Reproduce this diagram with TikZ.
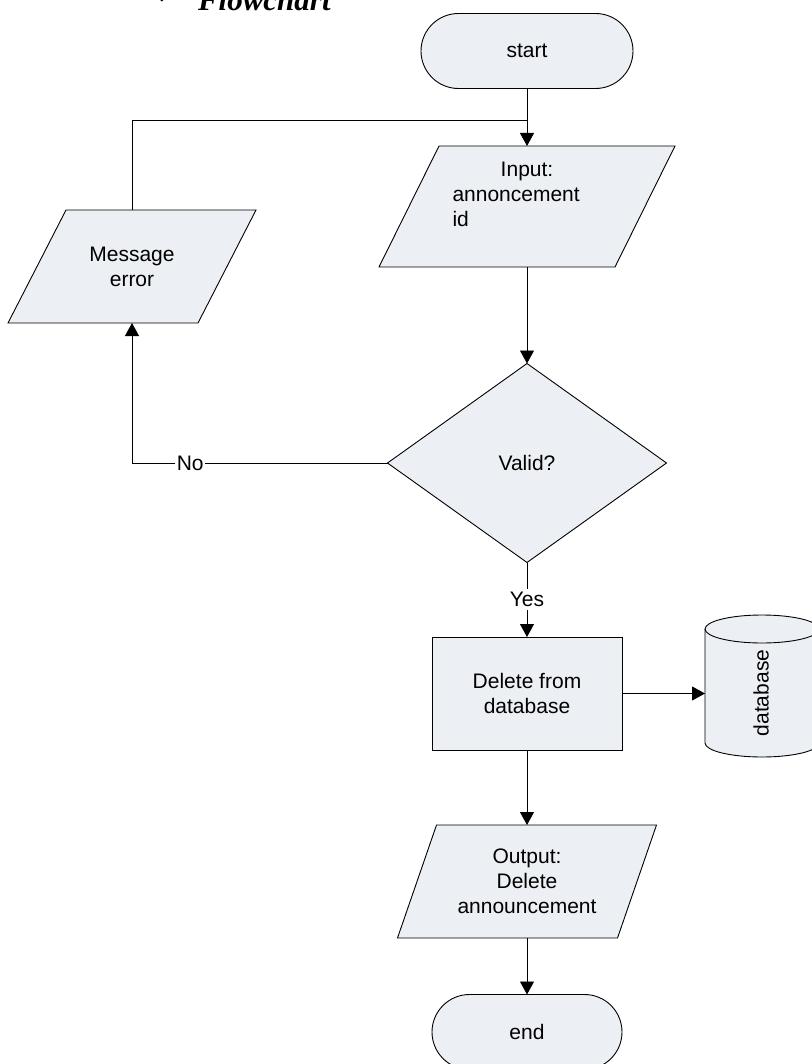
\documentclass[tikz,border=0pt]{standalone}
\usepackage{fontspec}
\setmainfont{Liberation Sans}
\newfontfamily\headfont{Liberation Serif}
\newfontfamily\symfont{DejaVu Sans}
\usetikzlibrary{shapes.geometric,shapes.misc,arrows.meta,backgrounds}
\definecolor{boxfill}{RGB}{236,239,244}

% slanted input/output box drawn around an (invisible) body node
\newcommand\ioshape[2]{%
  \filldraw[shapeline]
    ([xshift=#2]#1.north west) -- ([xshift=#2]#1.north east) --
    ([xshift=-#2]#1.south east) -- ([xshift=-#2]#1.south west) -- cycle;}

\begin{document}
\begin{tikzpicture}[x=1pt,y=-1pt,
  font=\fontsize{21}{25}\selectfont,
  every node/.style={inner sep=0pt, outer sep=0pt},
  shapeline/.style={draw=black, line width=0.9pt, fill=boxfill},
  term/.style={rounded rectangle, shapeline, minimum height=75pt},
  iobody/.style={rectangle, align=center},
  process/.style={rectangle, shapeline, align=center},
  decision/.style={diamond, shapeline},
  flow/.style={draw=black, line width=0.9pt, -{Triangle[length=13pt,width=14pt]}},
  link/.style={draw=black, line width=0.9pt},
  lbl/.style={fill=white, inner xsep=1.5pt, inner ysep=3pt},
]
\useasboundingbox (0,0) rectangle (811,1064);
\clip (0,0) rectangle (811,1064);

% heading, cut by the page top
\node[anchor=base, font=\symfont\fontsize{18}{18}\selectfont] (tick) at (165,4) {✓};
\node[anchor=base west, font=\headfont\bfseries\itshape\fontsize{31}{31}\selectfont] (title) at (198,11) {Flowchart};

% terminals
\node[term, minimum width=212pt] (start) at (527,51) {start};
\node[term, minimum width=190pt] (end) at (527,1032) {end};

% input
\node[iobody, minimum width=236pt, minimum height=121pt] (inp) at (527,206.5) {};
\node[align=center] (inptext) at (527,194)
  {Input:\\\makebox[149pt][l]{annoncement}\\\makebox[149pt][l]{id}};

% error message
\node[iobody, minimum width=190pt, minimum height=113pt] (msg) at (132,266.5) {Message\\error};

% decision
\node[decision, minimum width=279pt, minimum height=199pt] (dia) at (527,463) {Valid?};

% delete step
\node[process, minimum width=190pt, minimum height=113pt] (del) at (527,693.5) {Delete from\\database};

% database store
\node[rectangle, minimum width=114pt, minimum height=114pt] (db) at (762,686) {};
\node[rotate=90] (dbtext) at (761,693) {database};

% output
\node[iobody, minimum width=220pt, minimum height=113pt] (out) at (527,881.5) {Output:\\Delete\\announcement};

\begin{scope}[on background layer]
  \ioshape{inp}{30pt}
  \ioshape{msg}{29pt}
  \ioshape{out}{19.5pt}
  \filldraw[shapeline]
    (db.north west) arc[start angle=180, end angle=0, x radius=57pt, y radius=14pt]
    -- (db.south east) arc[start angle=0, end angle=-180, x radius=57pt, y radius=14pt]
    -- cycle;
  \draw[link] (db.north west) arc[start angle=180, end angle=360, x radius=57pt, y radius=14pt];
\end{scope}

% connectors
\coordinate (join) at (527,120);
\draw[flow] (start.south) -- (inp.north);
\draw[link] (msg.north) |- (join);
\draw[flow] (inp.south) -- (dia.north);
\draw[flow] (dia.west) -| node[lbl, pos=0.386] {No} (msg.south);
\draw[flow] (dia.south) -- node[lbl, pos=0.5] {Yes} (del.north);
\draw[flow] (del.east) -- (del.east -| db.west);
\draw[flow] (del.south) -- (out.north);
\draw[flow] (out.south) -- (end.north);
\end{tikzpicture}
\end{document}
